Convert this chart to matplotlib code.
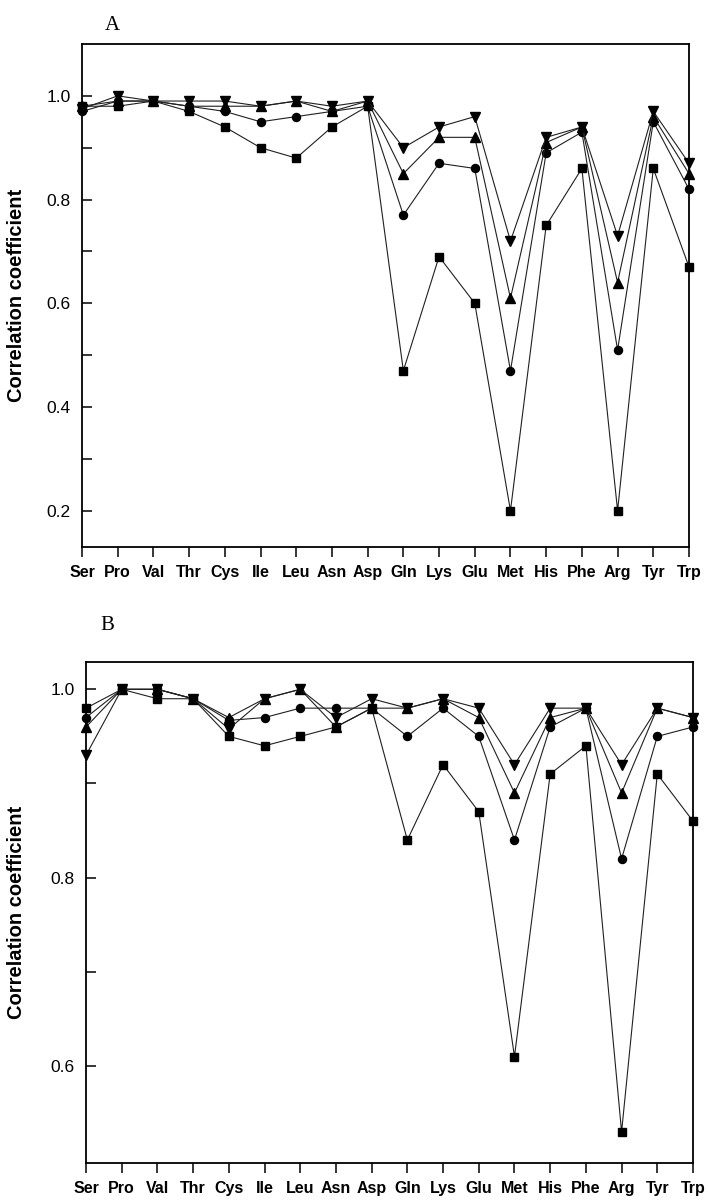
import matplotlib
matplotlib.use("Agg")
import matplotlib.pyplot as plt
from matplotlib.ticker import MultipleLocator, FixedLocator

categories = ["Ser", "Pro", "Val", "Thr", "Cys", "Ile", "Leu", "Asn", "Asp",
              "Gln", "Lys", "Glu", "Met", "His", "Phe", "Arg", "Tyr", "Trp"]

# Panel A
a_square = [0.98, 0.98, 0.99, 0.97, 0.94, 0.90, 0.88, 0.94, 0.98,
            0.47, 0.69, 0.60, 0.20, 0.75, 0.86, 0.20, 0.86, 0.67]
a_circle = [0.97, 0.99, 0.99, 0.98, 0.97, 0.95, 0.96, 0.97, 0.98,
            0.77, 0.87, 0.86, 0.47, 0.89, 0.93, 0.51, 0.95, 0.82]
a_up = [0.98, 0.99, 0.99, 0.98, 0.98, 0.98, 0.99, 0.97, 0.99,
        0.85, 0.92, 0.92, 0.61, 0.91, 0.94, 0.64, 0.96, 0.85]
a_down = [0.975, 1.00, 0.99, 0.99, 0.99, 0.98, 0.99, 0.98, 0.99,
          0.90, 0.94, 0.96, 0.72, 0.92, 0.94, 0.73, 0.97, 0.87]

# Panel B
b_square = [0.98, 1.00, 0.99, 0.99, 0.95, 0.94, 0.95, 0.96, 0.98,
            0.84, 0.92, 0.87, 0.61, 0.91, 0.94, 0.53, 0.91, 0.86]
b_circle = [0.97, 1.00, 1.00, 0.99, 0.967, 0.97, 0.98, 0.98, 0.98,
            0.95, 0.98, 0.95, 0.84, 0.96, 0.98, 0.82, 0.95, 0.96]
b_up = [0.96, 1.00, 1.00, 0.99, 0.97, 0.99, 1.00, 0.96, 0.98,
        0.98, 0.99, 0.97, 0.89, 0.97, 0.98, 0.89, 0.98, 0.97]
b_down = [0.93, 1.00, 1.00, 0.99, 0.958, 0.99, 1.00, 0.97, 0.99,
          0.98, 0.99, 0.98, 0.92, 0.98, 0.98, 0.92, 0.98, 0.97]

a_minor = [0.3, 0.5, 0.7, 0.9]
b_minor = [0.7, 0.9]

plt.rcParams['font.family'] = ['Liberation Sans', 'DejaVu Sans']

fig = plt.figure(figsize=(7.08, 12), dpi=100)
W, H = 708, 1200


def make_axes(left, top, right, bottom):
    return fig.add_axes([left / W, 1 - bottom / H, (right - left) / W, (bottom - top) / H])


axA = make_axes(82, 44, 689, 547)
axB = make_axes(86, 662, 693, 1163)

x = list(range(len(categories)))
styles = [("s", 5.2), ("o", 5.8), ("^", 7), ("v", 7)]


def draw(ax, series, ylim, minor):
    for (m, ms), ys in zip(styles, series):
        ax.plot(x, ys, color="#202020", lw=0.8, marker=m, markersize=ms,
                markerfacecolor="black", markeredgecolor="black", clip_on=False, zorder=3)
    ax.set_xlim(0, len(categories) - 1)
    ax.set_ylim(*ylim)
    ax.set_xticks(x)
    ax.set_xticklabels(categories, fontweight="bold", fontsize=11.5)
    ax.yaxis.set_major_locator(MultipleLocator(0.2))
    ax.yaxis.set_minor_locator(FixedLocator(minor))
    ax.yaxis.set_major_formatter(plt.FormatStrFormatter("%.1f"))
    ax.tick_params(axis="y", direction="in", length=7, width=1.1, labelsize=12.5, pad=8)
    ax.tick_params(axis="y", which="minor", direction="in", length=7, width=1.1)
    ax.tick_params(axis="x", direction="out", length=7, width=1.1, pad=6)
    for s in ax.spines.values():
        s.set_linewidth(1.3)
    ax.set_ylabel("Correlation coefficient", fontweight="bold", fontsize=14.5)


draw(axA, [a_square, a_circle, a_up, a_down], (0.13, 1.10), a_minor)
draw(axB, [b_square, b_circle, b_up, b_down], (0.497, 1.029), b_minor)

axA.yaxis.set_label_coords((26 - 82) / 607, 0.5)
axB.yaxis.set_label_coords((26 - 86) / 607, 0.5)

fig.text(105 / W, 1 - 26 / H, "A", family="Liberation Serif", fontsize=15, ha="left", va="center")
fig.text(100 / W, 1 - 625 / H, "B", family="Liberation Serif", fontsize=15, ha="left", va="center")

fig.savefig("out.png", dpi=100)
